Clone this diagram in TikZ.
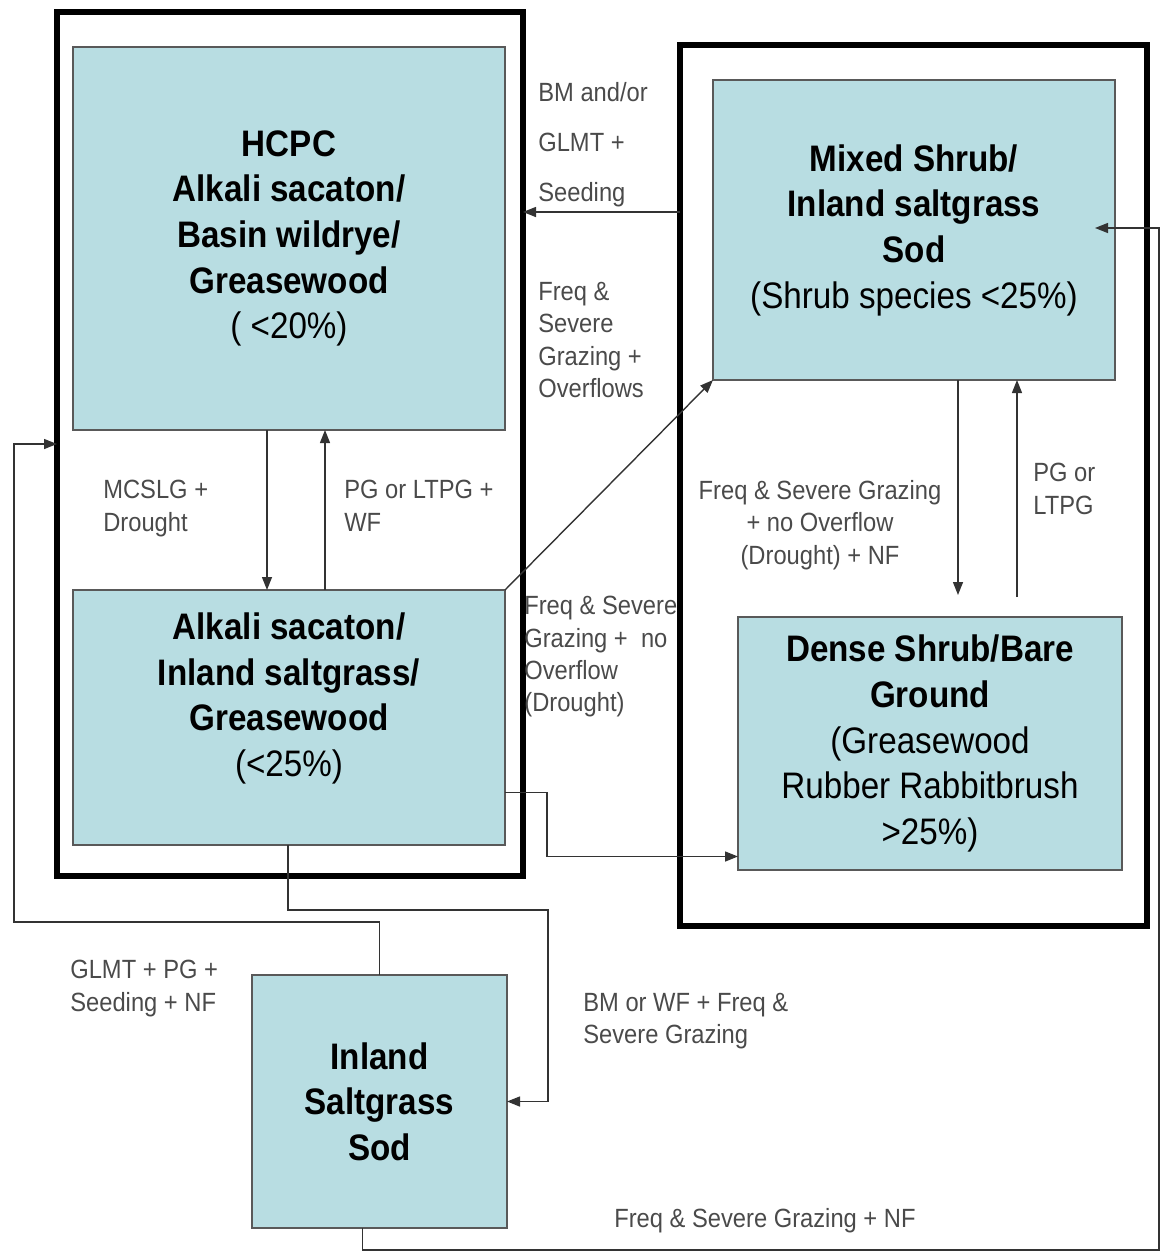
\documentclass[tikz,border=0pt]{standalone}
\usepackage{fontspec}
\setmainfont{Liberation Sans}
\newfontfamily\boxfam[FakeStretch=0.9]{Liberation Sans}
\newfontfamily\lblfam[FakeStretch=0.9]{Liberation Sans}
\usetikzlibrary{arrows.meta,calc}
\definecolor{boxfill}{HTML}{B8DDE2}
\definecolor{lblgray}{HTML}{4A4A4A}
\tikzset{
  state/.style ={draw=gray!70!black,line width=1pt,fill=boxfill,align=center,
                 font=\boxfam\fontsize{21}{26}\selectfont,inner sep=0pt,outer sep=0pt},
  frame/.style ={draw,line width=3.4pt,inner sep=0pt,outer sep=0pt},
  lbl/.style   ={align=left,inner sep=0pt,text=lblgray,
                 font=\lblfam\fontsize{15}{18.4}\selectfont},
  ar/.style    ={-{Triangle[length=2.6mm,width=2mm]},line width=0.8pt,draw=black!80},
  wh/.style 2 args={minimum width=#1*0.02cm,minimum height=#2*0.02cm},
}

\begin{document}
\begin{tikzpicture}[x=0.02cm,y=-0.02cm]
\useasboundingbox (0,0) rectangle (1164,1252);
% groups
\node[frame,wh={466}{864}] (F1) at (290,444) {};
\node[frame,wh={467}{881}] (F2) at (913.5,485.5) {};
% states
\node[state,wh={432}{383}] (HC) at (289,238.5) {\textbf{HCPC}\\\textbf{Alkali sacaton/}\\\textbf{Basin wildrye/}\\\textbf{Greasewood}\\( <20\%)};
\node[state,wh={432}{255}] (AS) at (289,717.5) {\textbf{Alkali sacaton/}\\\textbf{Inland saltgrass/}\\\textbf{Greasewood}\\(<25\%)\\\mbox{}};
\node[state,wh={402}{300}] (MS) at (914,230) {\textbf{Mixed Shrub/}\\\textbf{Inland saltgrass}\\\textbf{Sod}\\(Shrub species <25\%)};
\node[state,wh={384}{253}] (DS) at (930,743.5) {\textbf{Dense Shrub/Bare}\\\textbf{Ground}\\(Greasewood\\Rubber Rabbitbrush\\>25\%)};
\node[state,wh={255}{253}] (IS) at (379.5,1101.5) {\textbf{Inland}\\\textbf{Saltgrass}\\\textbf{Sod}};
% transitions
\draw[ar] ($(HC.south)+(-22,0)$) -- ($(AS.north)+(-22,0)$);
\draw[ar] ($(AS.north)+(36,0)$) -- ($(HC.south)+(36,0)$);
\coordinate (mh) at ($(MS.west)+(0,-18)$);
\draw[ar] (F2.west |- mh) -- (F1.east |- mh);
\draw[ar] (AS.north east) -- (MS.south west);
\draw[ar] ($(MS.south)+(44,0)$) -- ($(DS.north)+(28,-22)$);
\draw[ar] ($(DS.north)+(87,-20)$) -- ($(MS.south)+(103,0)$);
\draw[ar] ($(AS.east)+(0,75)$) -- ++(42,0) |- ($(DS.west)+(0,113)$);
\draw[ar] ($(AS.south)+(-1,0)$) -- ++(0,65) -| ($(IS.east)+(41,0)$) -- (IS.east);
\draw[ar] (IS.north) -- ++(0,-53) -| ($(F1.west)+(-43,0)$) -- (F1.west);
\draw[ar] ($(IS.south)+(-17,0)$) -- ++(0,22) -| ($(MS.east)+(44,-2)$) -- ($(MS.east)+(-20,-2)$);
% labels
\node[lbl,anchor=north west] (l1) at (538,82) {BM and/or\\[10pt]GLMT +\\[10pt]Seeding};
\node[lbl,anchor=north west] (l2) at (538,282) {Freq \&\\Severe\\Grazing +\\Overflows};
\node[lbl,anchor=north west] (l3) at (103,480) {MCSLG +\\Drought};
\node[lbl,anchor=north west] (l4) at (344,480) {PG or LTPG +\\WF};
\node[lbl,anchor=north west] (l5) at (524,596) {Freq \& Severe\\Grazing +\ \ no\\Overflow\\(Drought)};
\node[lbl,align=center,anchor=north] (l6) at (820,480) {Freq \& Severe Grazing\\+ no Overflow\\(Drought) + NF};
\node[lbl,anchor=north west] (l7) at (1033,463) {PG or\\LTPG};
\node[lbl,anchor=north west] (l8) at (70,960) {GLMT + PG +\\Seeding + NF};
\node[lbl,anchor=north west] (l9) at (583,993) {BM or WF + Freq \&\\Severe Grazing};
\node[lbl,anchor=north west] (l10) at (614,1208) {Freq \& Severe Grazing + NF};
\end{tikzpicture}
\end{document}
